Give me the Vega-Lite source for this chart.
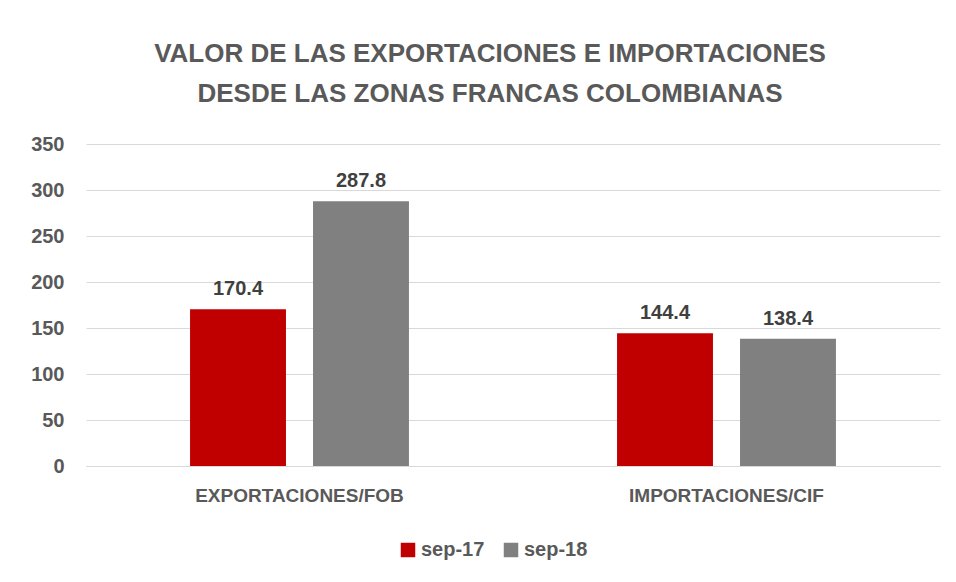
{
  "$schema": "https://vega.github.io/schema/vega-lite/v6.json",
  "autosize": "none",
  "width": 854,
  "height": 322,
  "padding": {"left": 86, "top": 144, "right": 16, "bottom": 116},
  "background": "white",
  "title": {
    "text": ["VALOR DE LAS EXPORTACIONES E IMPORTACIONES", "DESDE LAS ZONAS FRANCAS COLOMBIANAS"],
    "font": "Liberation Sans",
    "fontSize": 26,
    "fontWeight": "bold",
    "color": "#595959",
    "lineHeight": 40,
    "offset": 27,
    "anchor": "middle",
    "dx": -23
  },
  "data": {
    "values": [
      {"categoria": "EXPORTACIONES/FOB", "periodo": "sep-17", "valor": 170.4},
      {"categoria": "EXPORTACIONES/FOB", "periodo": "sep-18", "valor": 287.8},
      {"categoria": "IMPORTACIONES/CIF", "periodo": "sep-17", "valor": 144.4},
      {"categoria": "IMPORTACIONES/CIF", "periodo": "sep-18", "valor": 138.4}
    ]
  },
  "encoding": {
    "x": {
      "field": "categoria",
      "type": "nominal",
      "title": null,
      "scale": {"paddingInner": 0, "paddingOuter": 0},
      "axis": {
        "labelAngle": 0,
        "labelLimit": 0,
        "labelFont": "Liberation Sans",
        "labelFontSize": 19,
        "labelFontWeight": "bold",
        "labelColor": "#595959",
        "labelPadding": 20,
        "ticks": false,
        "domainColor": "#d9d9d9",
        "domainWidth": 1
      }
    },
    "xOffset": {
      "field": "periodo",
      "type": "nominal",
      "scale": {"paddingInner": 0.22, "paddingOuter": 0.846}
    },
    "y": {
      "field": "valor",
      "type": "quantitative",
      "title": null,
      "scale": {"domain": [0, 350]},
      "axis": {
        "values": [0, 50, 100, 150, 200, 250, 300, 350],
        "labelFont": "Liberation Sans",
        "labelFontSize": 20,
        "labelFontWeight": "bold",
        "labelColor": "#595959",
        "labelPadding": 22,
        "ticks": false,
        "domain": false,
        "gridColor": "#d9d9d9",
        "gridWidth": 1
      }
    }
  },
  "layer": [
    {
      "mark": {"type": "bar"},
      "encoding": {
        "color": {
          "field": "periodo",
          "type": "nominal",
          "title": null,
          "scale": {"domain": ["sep-17", "sep-18"], "range": ["#C00000", "#808080"]},
          "legend": {
            "orient": "none",
            "legendX": 312,
            "legendY": 396,
            "direction": "horizontal",
            "symbolType": "square",
            "symbolSize": 210,
            "symbolStrokeWidth": 0,
            "labelFont": "Liberation Sans",
            "labelFontSize": 20,
            "labelFontWeight": "bold",
            "labelColor": "#595959",
            "labelOffset": 3,
            "columnPadding": 16
          }
        }
      }
    },
    {
      "mark": {
        "type": "text",
        "baseline": "bottom",
        "dy": -10,
        "font": "Liberation Sans",
        "fontSize": 20,
        "fontWeight": "bold",
        "color": "#404040"
      },
      "encoding": {
        "text": {"field": "valor", "type": "quantitative", "format": ".1f"}
      }
    }
  ],
  "config": {
    "view": {"stroke": null}
  }
}
